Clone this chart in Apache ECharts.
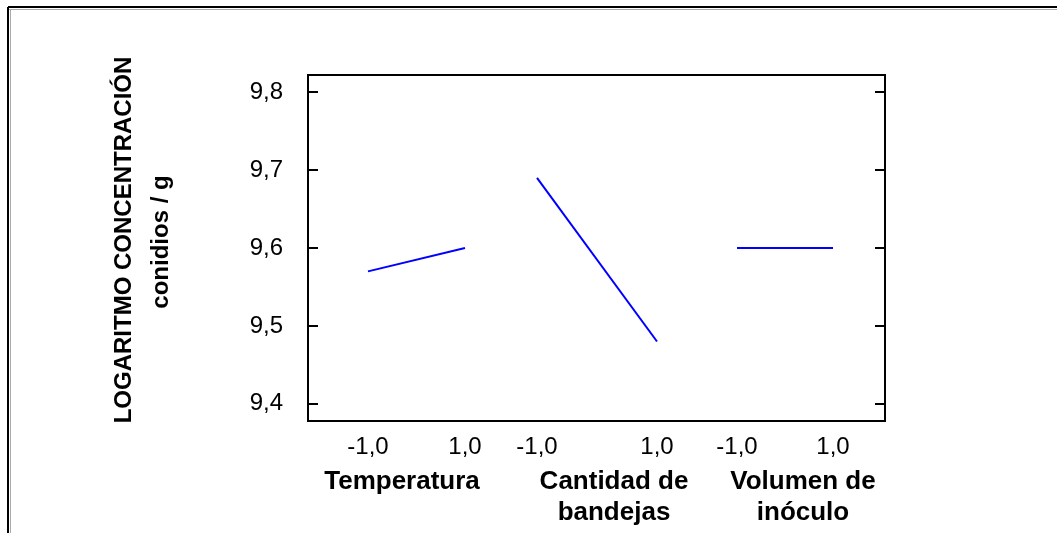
<!DOCTYPE html>
<html>
<head>
<meta charset="utf-8">
<script src="https://cdn.jsdelivr.net/npm/echarts@6/dist/echarts.min.js"></script>
<style>
  html, body { margin: 0; padding: 0; background: #ffffff; }
  #chart { width: 1057px; height: 533px; }
</style>
</head>
<body>
<div id="chart"></div>
<script>
// Main effects of the three factors on the log conidia concentration
const factors = ['Temperatura', 'Cantidad de\nbandejas', 'Volumen de\ninóculo'];
const levels = [-1, 1];
const temperatura = [9.57, 9.60];
const bandejas = [9.69, 9.48];
const inoculo = [9.60, 9.60];
const yTicks = [9.4, 9.5, 9.6, 9.7, 9.8];
const yTitle = 'LOGARITMO CONCENTRACIÓN';
const ySubTitle = 'conidios / g';

const effects = [temperatura, bandejas, inoculo];

const FONT = 'Liberation Sans';
const Y_MIN = 9.378, Y_MAX = 9.822;
const PLOT = { left: 308, top: 75, width: 577, height: 346 };
// horizontal span of each factor panel (from level -1 to level +1)
const panels = [
  { left: 368, width: 97, namePad: [0, 29, 0, 0] },
  { left: 537, width: 120, namePad: [0, 0, 0, 34] },
  { left: 737, width: 96, namePad: [0, 0, 0, 36] }
];

const comma = v => Number(v).toFixed(1).replace('.', ',');

const frameAxis = (position, showLabels) => ({
  gridIndex: 0, type: 'value', position: position, min: Y_MIN, max: Y_MAX,
  splitLine: { show: false },
  axisLine: { show: true, onZero: false, lineStyle: { color: '#000', width: 2 } },
  axisTick: { show: true, inside: true, length: 10, lineStyle: { color: '#000', width: 2 }, customValues: yTicks },
  axisLabel: showLabels
    ? { customValues: yTicks, formatter: comma, fontFamily: FONT, fontSize: 24, color: '#000', margin: 25 }
    : { show: false }
});

const grids = [{
  left: PLOT.left, top: PLOT.top, width: PLOT.width, height: PLOT.height,
  show: true, borderColor: '#000', borderWidth: 2, backgroundColor: 'transparent'
}];
const xAxes = [{ gridIndex: 0, type: 'value', min: -1, max: 1, show: false }];
const yAxes = [frameAxis('left', true), frameAxis('right', false)];
const series = [];

panels.forEach((p, i) => {
  const gi = i + 1;
  grids.push({ left: p.left, top: PLOT.top, width: p.width, height: PLOT.height, show: false });
  xAxes.push({
    gridIndex: gi, type: 'value', min: -1, max: 1,
    axisLine: { show: false, onZero: false }, axisTick: { show: false }, splitLine: { show: false },
    axisLabel: { customValues: levels, formatter: comma, fontFamily: FONT, fontSize: 24, color: '#000', margin: 14 },
    name: factors[i], nameLocation: 'middle', nameGap: 45,
    nameTextStyle: { fontFamily: FONT, fontSize: 26, fontWeight: 'bold', color: '#000', lineHeight: 31, padding: p.namePad }
  });
  yAxes.push({ gridIndex: gi, type: 'value', min: Y_MIN, max: Y_MAX, show: false });
  series.push({
    type: 'line', xAxisIndex: gi, yAxisIndex: gi + 1,
    data: levels.map((lv, k) => [lv, effects[i][k]]),
    symbol: 'none', lineStyle: { color: '#0000ff', width: 2 }, silent: true
  });
});

const chart = echarts.init(document.getElementById('chart'), null, { renderer: 'canvas' });
chart.setOption({
  animation: false,
  backgroundColor: '#ffffff',
  grid: grids,
  xAxis: xAxes,
  yAxis: yAxes,
  series: series,
  graphic: [
    // page frame
    { type: 'line', shape: { x1: 8, y1: 7, x2: 1057, y2: 7 }, style: { stroke: '#000', lineWidth: 2 } },
    { type: 'line', shape: { x1: 9, y1: 9.5, x2: 1057, y2: 9.5 }, style: { stroke: '#aaa', lineWidth: 1 } },
    { type: 'line', shape: { x1: 8, y1: 7, x2: 8, y2: 533 }, style: { stroke: '#000', lineWidth: 2 } },
    { type: 'line', shape: { x1: 10.5, y1: 9, x2: 10.5, y2: 533 }, style: { stroke: '#aaa', lineWidth: 1 } },
    // vertical axis title
    { type: 'text', x: 124, y: 240, rotation: Math.PI / 2,
      style: { text: yTitle, font: 'bold 24px "' + FONT + '"', fill: '#000', align: 'center', verticalAlign: 'middle' } },
    { type: 'text', x: 161, y: 242, rotation: Math.PI / 2,
      style: { text: ySubTitle, font: 'bold 24px "' + FONT + '"', fill: '#000', align: 'center', verticalAlign: 'middle' } }
  ]
});
</script>
</body>
</html>
